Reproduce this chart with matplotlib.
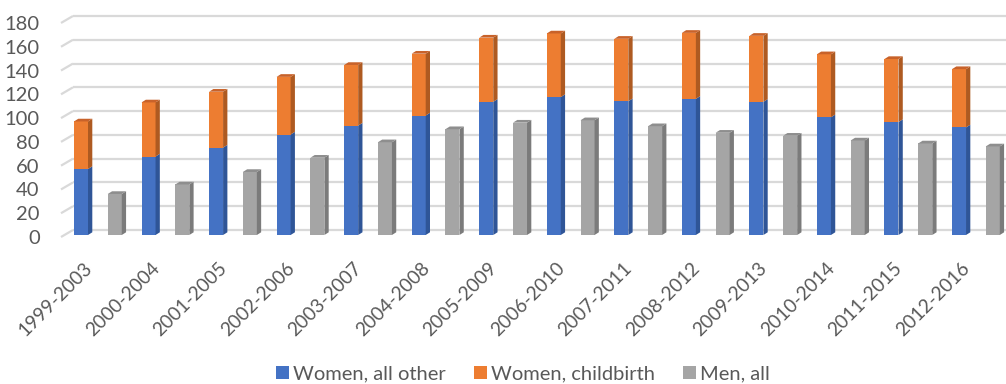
import matplotlib
matplotlib.use("Agg")
import matplotlib.pyplot as plt
from matplotlib.patches import Polygon, Patch
from matplotlib.transforms import ScaledTranslation

periods = ["1999-2003", "2000-2004", "2001-2005", "2002-2006", "2003-2007",
           "2004-2008", "2005-2009", "2006-2010", "2007-2011", "2008-2012",
           "2009-2013", "2010-2014", "2011-2015", "2012-2016"]
women_other = [55.5, 66, 73.5, 84.5, 92, 100.5, 112, 116, 112.5, 114.5, 112, 99, 95, 90.5]
women_childbirth = [40, 45.5, 47, 48.5, 51, 52, 54, 53.5, 52.5, 55.5, 55.5, 53, 53, 49]
men_all = [34.5, 42.5, 53, 65, 78, 89, 94.5, 96.5, 91.5, 86, 83.5, 79.5, 77, 74.5]
yticks = [0, 20, 40, 60, 80, 100, 120, 140, 160, 180]
series_names = ["Women, all other", "Women, childbirth", "Men, all"]

FONT = ["Lato", "DejaVu Sans"]
TXT = "#595959"
C_BLUE = ("#4472C4", "#2F5597", "#3A63AE")
C_ORANGE = ("#ED7D31", "#AE5A21", "#C8622A")
C_GRAY = ("#A5A5A5", "#7B7B7B", "#8E8E8E")
GRID = "#D9D9D9"

W, H = 1006, 384
SX = 33.77   # px per slot
SY = 1.189   # px per value unit
fig = plt.figure(figsize=(W / 100, H / 100), dpi=100)
ax = fig.add_axes([55 / W, (H - 240) / H, 951 / W, 235 / H])
x0 = (55 - 81) / SX
x1 = (1006 - 81) / SX
ax.set_xlim(x0, x1)
ax.set_ylim(-5 / SY, 230 / SY)
for s in ax.spines.values():
    s.set_visible(False)

# 3D depth parameters (in data units)
front_dy = -2 / SY
back_dy = 5 / SY
x_front = (61 - 81) / SX
x_back = (73 - 81) / SX
bw = 14 / SX
side_dx = 4.3 / SX
side_dy = 2.7 / SY

for v in yticks:
    ax.plot([x_front, x_back], [v + front_dy, v + back_dy], color=GRID, lw=1.6,
            zorder=0, solid_capstyle="butt")
    ax.plot([x_back, x1], [v + back_dy, v + back_dy], color=GRID, lw=1.6,
            zorder=0, solid_capstyle="butt")


def bar3d(x, bottom, height, colors, top):
    front, side, topc = colors
    ax.bar([x], [height], bottom=[bottom], width=bw, color=front, linewidth=0, zorder=3)
    xr = x + bw / 2
    yt = bottom + height
    ax.add_patch(Polygon([(xr, bottom), (xr + side_dx, bottom + side_dy),
                          (xr + side_dx, yt + side_dy), (xr, yt)],
                         closed=True, facecolor=side, edgecolor="none", zorder=3))
    if top:
        xl = x - bw / 2
        ax.add_patch(Polygon([(xl, yt), (xl + side_dx, yt + side_dy),
                              (xr + side_dx, yt + side_dy), (xr, yt)],
                             closed=True, facecolor=topc, edgecolor="none", zorder=3))


for i in range(len(periods)):
    xw = 2 * i
    xm = 2 * i + 1
    bar3d(xw, 0, women_other[i], C_BLUE, False)
    bar3d(xw, women_other[i], women_childbirth[i], C_ORANGE, True)
    bar3d(xm, 0, men_all[i], C_GRAY, True)

ax.set_yticks([v + front_dy for v in yticks], [str(v) for v in yticks])
ax.set_xticks([2 * i for i in range(len(periods))], periods)
ax.tick_params(axis="y", length=0, pad=11, labelcolor=TXT, labelsize=14.5)
ax.tick_params(axis="x", length=0, pad=18, labelcolor=TXT, labelsize=13.8)
for lab in ax.get_yticklabels():
    lab.set_fontfamily(FONT)
for lab in ax.get_xticklabels():
    lab.set_fontfamily(FONT)
    lab.set_rotation(45)
    lab.set_ha("right")
    lab.set_va("center")
    lab.set_rotation_mode("anchor")
    lab.set_transform(lab.get_transform() + ScaledTranslation(8 / 100, 0, fig.dpi_scale_trans))

handles = [Patch(facecolor=c[0], edgecolor="none") for c in (C_BLUE, C_ORANGE, C_GRAY)]
leg = fig.legend(handles, series_names, loc="center", bbox_to_anchor=(523 / W, 10 / H),
                 ncol=3, frameon=False, handlelength=0.65, handleheight=0.65,
                 handletextpad=0.2, columnspacing=1.4,
                 prop={"family": FONT, "size": 14.5})
for t in leg.get_texts():
    t.set_color(TXT)

fig.savefig("out.png", dpi=100)
